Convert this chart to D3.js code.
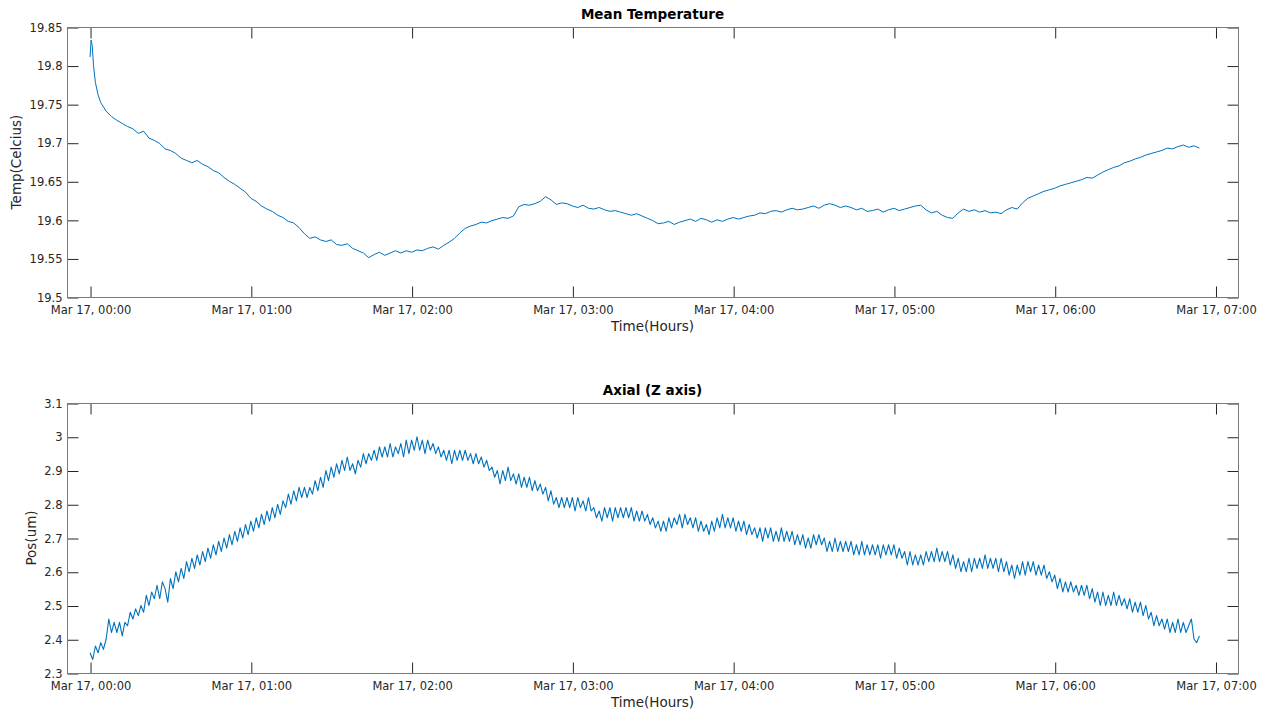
<!DOCTYPE html>
<html>
<head>
<meta charset="utf-8">
<script src="https://cdn.jsdelivr.net/npm/d3@7"></script>
<style>
  body { margin: 0; background: #fff; }
  text { font-family: "DejaVu Sans", sans-serif; fill: #262626; }
</style>
</head>
<body>
<svg width="1267" height="713"></svg>
<script>
// data (minutes after Mar 17, 00:00)
var startTime = new Date(2021, 2, 17, 0, 0, 0);
var xDomainMinutes = [-8.6, 428.4];

var tempTicks = [19.5, 19.55, 19.6, 19.65, 19.7, 19.75, 19.8, 19.85];
var axialTicks = [2.3, 2.4, 2.5, 2.6, 2.7, 2.8, 2.9, 3.0, 3.1];

// first minutes of the temperature trace (irregular spacing)
var tempHeadMinutes = [0, 0.4, 0.8, 1.3, 2, 3];
var tempHead = [19.811, 19.833, 19.826, 19.800, 19.778, 19.762];

// temperature every 2 minutes from minute 4
var tempFirstMinute = 4, tempStep = 2;
var temperature = [
  19.752, 19.741, 19.734, 19.729, 19.725, 19.721, 19.718, 19.712, 19.715, 19.706,
  19.703, 19.699, 19.692, 19.690, 19.686, 19.680, 19.677, 19.674, 19.677, 19.672,
  19.669, 19.664, 19.661, 19.655, 19.650, 19.646, 19.641, 19.636, 19.628, 19.624,
  19.618, 19.614, 19.611, 19.606, 19.603, 19.598, 19.596, 19.590, 19.582, 19.576,
  19.578, 19.574, 19.572, 19.574, 19.568, 19.567, 19.569, 19.563, 19.560, 19.557,
  19.551, 19.555, 19.558, 19.554, 19.557, 19.560, 19.557, 19.560, 19.558, 19.561,
  19.560, 19.563, 19.565, 19.562, 19.567, 19.571, 19.576, 19.583, 19.589, 19.592,
  19.594, 19.597, 19.596, 19.599, 19.601, 19.603, 19.602, 19.605, 19.617, 19.620,
  19.619, 19.621, 19.624, 19.630, 19.626, 19.620, 19.622, 19.621, 19.618, 19.616,
  19.619, 19.615, 19.614, 19.616, 19.613, 19.611, 19.612, 19.610, 19.608, 19.606,
  19.608, 19.605, 19.602, 19.599, 19.595, 19.596, 19.598, 19.594, 19.597, 19.599,
  19.601, 19.598, 19.602, 19.600, 19.597, 19.600, 19.598, 19.601, 19.603, 19.601,
  19.603, 19.605, 19.606, 19.609, 19.608, 19.611, 19.612, 19.610, 19.613, 19.615,
  19.613, 19.614, 19.616, 19.618, 19.615, 19.619, 19.621, 19.619, 19.616, 19.618,
  19.616, 19.613, 19.615, 19.611, 19.612, 19.614, 19.610, 19.613, 19.615, 19.612,
  19.614, 19.616, 19.618, 19.619, 19.613, 19.609, 19.611, 19.606, 19.603, 19.602,
  19.609, 19.614, 19.611, 19.613, 19.610, 19.612, 19.609, 19.610, 19.608, 19.613,
  19.616, 19.614, 19.622, 19.628, 19.631, 19.634, 19.637, 19.639, 19.641, 19.644,
  19.646, 19.648, 19.650, 19.652, 19.655, 19.654, 19.658, 19.662, 19.665, 19.668,
  19.670, 19.674, 19.676, 19.679, 19.681, 19.684, 19.686, 19.688, 19.690, 19.693,
  19.692, 19.695, 19.697, 19.694, 19.696, 19.693
];

// axial position every minute from minute 0
var axialFirstMinute = 0, axialStep = 1;
var axial = [
  2.36, 2.34, 2.38, 2.36, 2.39, 2.37, 2.40, 2.46, 2.42, 2.45,
  2.42, 2.45, 2.41, 2.45, 2.44, 2.48, 2.46, 2.49, 2.47, 2.50,
  2.48, 2.53, 2.50, 2.54, 2.52, 2.56, 2.52, 2.57, 2.55, 2.51,
  2.58, 2.55, 2.60, 2.57, 2.61, 2.58, 2.63, 2.60, 2.64, 2.61,
  2.65, 2.62, 2.66, 2.63, 2.67, 2.64, 2.68, 2.65, 2.69, 2.66,
  2.70, 2.67, 2.71, 2.68, 2.72, 2.69, 2.73, 2.70, 2.74, 2.71,
  2.75, 2.72, 2.76, 2.73, 2.77, 2.74, 2.78, 2.75, 2.79, 2.76,
  2.80, 2.77, 2.81, 2.79, 2.83, 2.80, 2.84, 2.81, 2.85, 2.82,
  2.85, 2.82, 2.85, 2.83, 2.87, 2.84, 2.88, 2.85, 2.90, 2.87,
  2.91, 2.88, 2.92, 2.89, 2.93, 2.90, 2.94, 2.90, 2.92, 2.89,
  2.93, 2.91, 2.95, 2.92, 2.95, 2.93, 2.96, 2.93, 2.97, 2.94,
  2.97, 2.94, 2.98, 2.94, 2.97, 2.95, 2.98, 2.94, 2.99, 2.95,
  2.99, 2.96, 3.00, 2.96, 2.99, 2.95, 2.99, 2.96, 2.98, 2.95,
  2.97, 2.94, 2.96, 2.93, 2.96, 2.92, 2.96, 2.93, 2.96, 2.93,
  2.96, 2.93, 2.95, 2.92, 2.95, 2.92, 2.94, 2.91, 2.93, 2.90,
  2.91, 2.88, 2.90, 2.86, 2.90, 2.87, 2.91, 2.87, 2.89, 2.86,
  2.89, 2.85, 2.88, 2.85, 2.88, 2.84, 2.87, 2.84, 2.86, 2.83,
  2.85, 2.81, 2.84, 2.80, 2.82, 2.79, 2.82, 2.79, 2.82, 2.79,
  2.82, 2.78, 2.82, 2.79, 2.81, 2.78, 2.82, 2.78, 2.79, 2.76,
  2.78, 2.75, 2.79, 2.76, 2.79, 2.75, 2.79, 2.76, 2.79, 2.76,
  2.79, 2.76, 2.79, 2.75, 2.78, 2.75, 2.78, 2.75, 2.77, 2.74,
  2.76, 2.73, 2.75, 2.72, 2.75, 2.72, 2.76, 2.73, 2.76, 2.74,
  2.77, 2.73, 2.77, 2.74, 2.76, 2.73, 2.76, 2.72, 2.75, 2.72,
  2.74, 2.71, 2.75, 2.72, 2.76, 2.73, 2.77, 2.73, 2.76, 2.73,
  2.76, 2.72, 2.75, 2.72, 2.75, 2.71, 2.74, 2.71, 2.73, 2.70,
  2.73, 2.69, 2.73, 2.70, 2.73, 2.69, 2.72, 2.69, 2.73, 2.69,
  2.72, 2.69, 2.72, 2.68, 2.71, 2.68, 2.71, 2.67, 2.70, 2.67,
  2.71, 2.68, 2.71, 2.68, 2.70, 2.66, 2.69, 2.66, 2.70, 2.66,
  2.69, 2.66, 2.69, 2.66, 2.69, 2.65, 2.68, 2.65, 2.69, 2.65,
  2.68, 2.65, 2.68, 2.65, 2.68, 2.64, 2.68, 2.65, 2.68, 2.65,
  2.68, 2.64, 2.67, 2.64, 2.66, 2.62, 2.66, 2.62, 2.65, 2.62,
  2.65, 2.62, 2.66, 2.63, 2.66, 2.63, 2.67, 2.63, 2.66, 2.63,
  2.66, 2.62, 2.65, 2.61, 2.64, 2.60, 2.63, 2.60, 2.64, 2.60,
  2.64, 2.61, 2.64, 2.61, 2.65, 2.61, 2.64, 2.61, 2.64, 2.60,
  2.64, 2.60, 2.63, 2.59, 2.62, 2.58, 2.62, 2.59, 2.63, 2.59,
  2.63, 2.60, 2.63, 2.59, 2.62, 2.59, 2.62, 2.58, 2.60, 2.57,
  2.59, 2.55, 2.58, 2.54, 2.57, 2.54, 2.57, 2.54, 2.56, 2.53,
  2.56, 2.53, 2.56, 2.52, 2.55, 2.51, 2.54, 2.50, 2.54, 2.50,
  2.53, 2.50, 2.54, 2.50, 2.53, 2.50, 2.52, 2.49, 2.52, 2.48,
  2.51, 2.48, 2.51, 2.47, 2.50, 2.46, 2.48, 2.44, 2.47, 2.44,
  2.46, 2.43, 2.46, 2.42, 2.45, 2.42, 2.46, 2.42, 2.45, 2.42,
  2.44, 2.46, 2.40, 2.39, 2.41
];

var svg = d3.select("svg");
var lineColor = "#0072bd";
var left = 67, right = 1238;

function atMinute(m) { return new Date(startTime.getTime() + m * 60000); }

var tempData = tempHead.map(function(v, i) { return { t: atMinute(tempHeadMinutes[i]), v: v }; })
  .concat(temperature.map(function(v, i) { return { t: atMinute(tempFirstMinute + i * tempStep), v: v }; }));
var axialData = axial.map(function(v, i) { return { t: atMinute(axialFirstMinute + i * axialStep), v: v }; });

var x = d3.scaleTime()
    .domain([atMinute(xDomainMinutes[0]), atMinute(xDomainMinutes[1])])
    .range([left, right]);

var timeFmt = d3.timeFormat("%b %d, %H:%M");
var numFmt = d3.format("~g");

function drawPanel(cfg) {
  var y = d3.scaleLinear().domain(cfg.domain).range([cfg.bottom, cfg.top]);
  var g = svg.append("g");

  var clipId = "clip-" + cfg.name;
  g.append("clipPath").attr("id", clipId)
    .append("rect")
      .attr("x", left).attr("y", cfg.top)
      .attr("width", right - left).attr("height", cfg.bottom - cfg.top);

  g.append("path")
      .datum(cfg.data)
      .attr("clip-path", "url(#" + clipId + ")")
      .attr("fill", "none")
      .attr("stroke", lineColor)
      .attr("stroke-width", cfg.lineWidth)
      .attr("stroke-linejoin", "round")
      .attr("d", d3.line()
        .x(function(d) { return x(d.t); })
        .y(function(d) { return y(d.v); }));

  var xTicks = d3.timeHour.range(startTime, atMinute(421));

  var bottomAxis = g.append("g")
      .attr("transform", "translate(0.5," + (cfg.bottom + 0.5) + ")")
      .call(d3.axisBottom(x).tickValues(xTicks).tickFormat(timeFmt)
        .tickSizeInner(-11).tickSizeOuter(0).tickPadding(8));
  var topAxis = g.append("g")
      .attr("transform", "translate(0.5," + (cfg.top + 0.5) + ")")
      .call(d3.axisTop(x).tickValues(xTicks).tickFormat("")
        .tickSizeInner(-11).tickSizeOuter(0));
  var leftAxis = g.append("g")
      .attr("transform", "translate(" + (left + 0.5) + ",0.5)")
      .call(d3.axisLeft(y).tickValues(cfg.ticks).tickFormat(numFmt)
        .tickSizeInner(-11).tickSizeOuter(0).tickPadding(5));
  var rightAxis = g.append("g")
      .attr("transform", "translate(" + (right + 0.5) + ",0.5)")
      .call(d3.axisRight(y).tickValues(cfg.ticks).tickFormat("")
        .tickSizeInner(-11).tickSizeOuter(0));

  [bottomAxis, topAxis, leftAxis, rightAxis].forEach(function(a) {
    a.select(".domain").remove();
    a.selectAll(".tick line").attr("stroke", "#262626");
    a.selectAll("text")
      .attr("fill", "#262626")
      .style("font-family", "DejaVu Sans, sans-serif")
      .style("font-size", "11.5px");
  });

  // box
  g.append("rect")
      .attr("x", left + 0.5).attr("y", cfg.top + 0.5)
      .attr("width", right - left).attr("height", cfg.bottom - cfg.top)
      .attr("fill", "none")
      .attr("stroke", "#7a7a7a")
      .attr("stroke-width", 1);

  g.append("text")
      .attr("x", (left + right) / 2).attr("y", cfg.top - 8)
      .attr("text-anchor", "middle")
      .style("font-size", "13.5px").style("font-weight", "bold")
      .style("fill", "#000")
      .text(cfg.title);

  g.append("text")
      .attr("x", (left + right) / 2).attr("y", cfg.bottom + 34)
      .attr("text-anchor", "middle")
      .style("font-size", "13.5px")
      .text("Time(Hours)");

  g.append("text")
      .attr("transform", "translate(" + cfg.ylabelX + "," + ((cfg.top + cfg.bottom) / 2) + ") rotate(-90)")
      .attr("text-anchor", "middle")
      .style("font-size", "13.5px")
      .text(cfg.ylabel);
}

drawPanel({ name: "temp", top: 27, bottom: 297, domain: [19.5, 19.85], ticks: tempTicks,
  data: tempData, title: "Mean Temperature", ylabel: "Temp(Celcius)", ylabelX: 21, lineWidth: 1 });
drawPanel({ name: "axial", top: 403, bottom: 673, domain: [2.3, 3.1], ticks: axialTicks,
  data: axialData, title: "Axial (Z axis)", ylabel: "Pos(um)", ylabelX: 36, lineWidth: 1.1 });
</script>
</body>
</html>
